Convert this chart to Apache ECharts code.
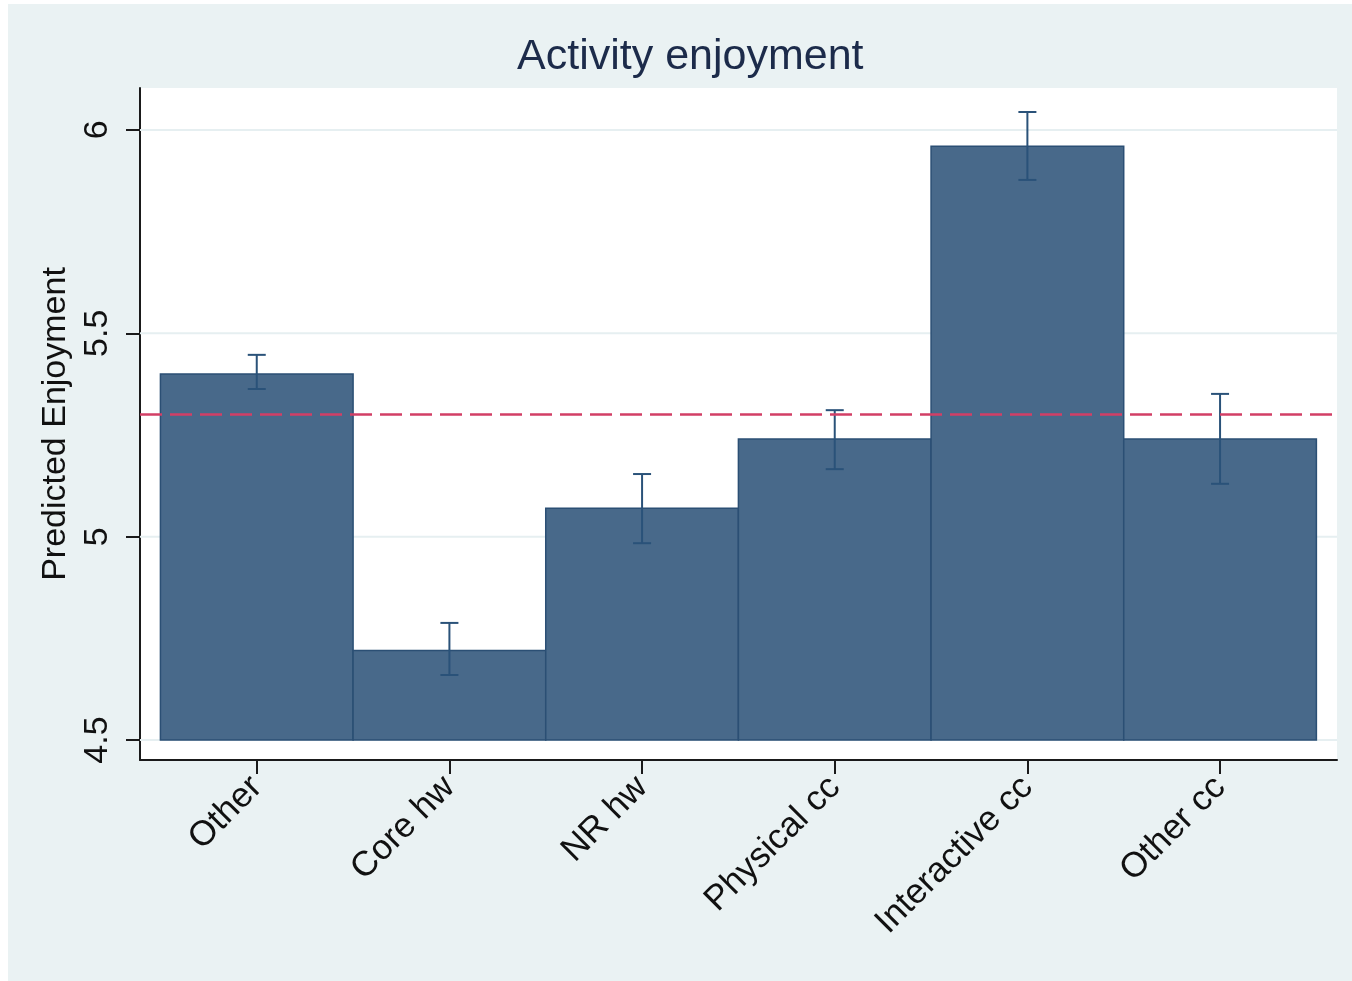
<!DOCTYPE html>
<html>
<head>
<meta charset="utf-8">
<script src="https://cdn.jsdelivr.net/npm/echarts@6/dist/echarts.min.js"></script>
<style>
  html, body { margin: 0; padding: 0; background: #fff; }
  #chart { position: absolute; left: 8px; top: 4px; width: 1344px; height: 977px; }
</style>
</head>
<body>
<div id="chart"></div>
<script>
// categories and predicted values
const categories = ['Other', 'Core hw', 'NR hw', 'Physical cc', 'Interactive cc', 'Other cc']
const predicted = [5.40, 4.72, 5.07, 5.24, 5.96, 5.24]
const ciLow = [5.363, 4.660, 4.984, 5.166, 5.877, 5.130]
const ciHigh = [5.447, 4.788, 5.154, 5.311, 6.044, 5.351]
const yTicks = [4.5, 5, 5.5, 6]
const refValue = 5.30
const barBase = 4.5

const xPos = categories.map((c, i) => i + 1)
const xMin = 0.394, xMax = 6.607
const yMin = 4.451, yMax = 6.103

const font = "'Liberation Sans', Arial, sans-serif"

const chart = echarts.init(document.getElementById('chart'))

const option = {
  backgroundColor: '#eaf2f3',
  animation: false,
  title: {
    text: 'Activity enjoyment',
    left: 504,
    top: 27,
    textStyle: { fontFamily: font, fontSize: 43, fontWeight: 'normal', color: '#1c2b4a' }
  },
  grid: {
    left: 132, top: 84, right: 15, bottom: 221,
    show: true, backgroundColor: '#ffffff', borderWidth: 0
  },
  xAxis: {
    type: 'value',
    min: xMin,
    max: xMax,
    axisLine: { show: true, onZero: false, lineStyle: { color: '#1a1a1a', width: 2 } },
    axisTick: { show: true, length: 14, customValues: xPos, lineStyle: { color: '#1a1a1a', width: 2 } },
    axisLabel: {
      customValues: xPos,
      rotate: 45,
      margin: 22,
      fontFamily: font,
      fontSize: 35,
      color: '#111',
      formatter: v => categories[Math.round(v) - 1] || ''
    },
    splitLine: { show: false }
  },
  yAxis: {
    type: 'value',
    min: yMin,
    max: yMax,
    name: 'Predicted Enjoyment',
    nameLocation: 'middle',
    nameRotate: 90,
    nameGap: 60,
    nameTextStyle: { fontFamily: font, fontSize: 34, color: '#111' },
    axisLine: { show: true, lineStyle: { color: '#1a1a1a', width: 2 } },
    axisTick: { show: true, length: 14, customValues: yTicks, lineStyle: { color: '#1a1a1a', width: 2 } },
    axisLabel: {
      customValues: yTicks,
      rotate: 90,
      margin: 25,
      fontFamily: font,
      fontSize: 34,
      color: '#111',
      formatter: v => String(v)
    },
    splitLine: { show: false }
  },
  series: [
    {
      // light grid lines + reference line, behind the bars
      type: 'custom',
      z: 1,
      data: yTicks.map(v => [v]),
      renderItem: (params, api) => {
        const a = api.coord([xMin, api.value(0)])
        const b = api.coord([xMax, api.value(0)])
        return {
          type: 'line',
          shape: { x1: a[0], y1: a[1], x2: b[0], y2: b[1] },
          style: { stroke: '#e6eff1', lineWidth: 2 }
        }
      },
      markLine: {
        silent: true,
        symbol: 'none',
        label: { show: false },
        lineStyle: { color: '#d23f66', width: 2.5, type: [22, 8] },
        data: [{ yAxis: refValue }]
      }
    },
    {
      type: 'custom',
      z: 2,
      data: xPos.map((x, i) => [x, predicted[i]]),
      renderItem: (params, api) => {
        const x = api.value(0)
        const p0 = api.coord([x - 0.5, barBase])
        const p1 = api.coord([x + 0.5, api.value(1)])
        return {
          type: 'rect',
          shape: { x: p0[0], y: p1[1], width: p1[0] - p0[0], height: p0[1] - p1[1] },
          style: { fill: '#48698a', stroke: '#2b4f74', lineWidth: 1.5 }
        }
      }
    },
    {
      type: 'custom',
      z: 3,
      data: xPos.map((x, i) => [x, ciLow[i], ciHigh[i]]),
      renderItem: (params, api) => {
        const x = api.value(0)
        const lo = api.coord([x, api.value(1)])
        const hi = api.coord([x, api.value(2)])
        const hw = 9
        const st = { stroke: '#2a5279', lineWidth: 2 }
        return {
          type: 'group',
          children: [
            { type: 'line', shape: { x1: lo[0], y1: lo[1], x2: hi[0], y2: hi[1] }, style: st },
            { type: 'line', shape: { x1: lo[0] - hw, y1: lo[1], x2: lo[0] + hw, y2: lo[1] }, style: st },
            { type: 'line', shape: { x1: hi[0] - hw, y1: hi[1], x2: hi[0] + hw, y2: hi[1] }, style: st }
          ]
        }
      }
    }
  ]
}

chart.setOption(option)
</script>
</body>
</html>
